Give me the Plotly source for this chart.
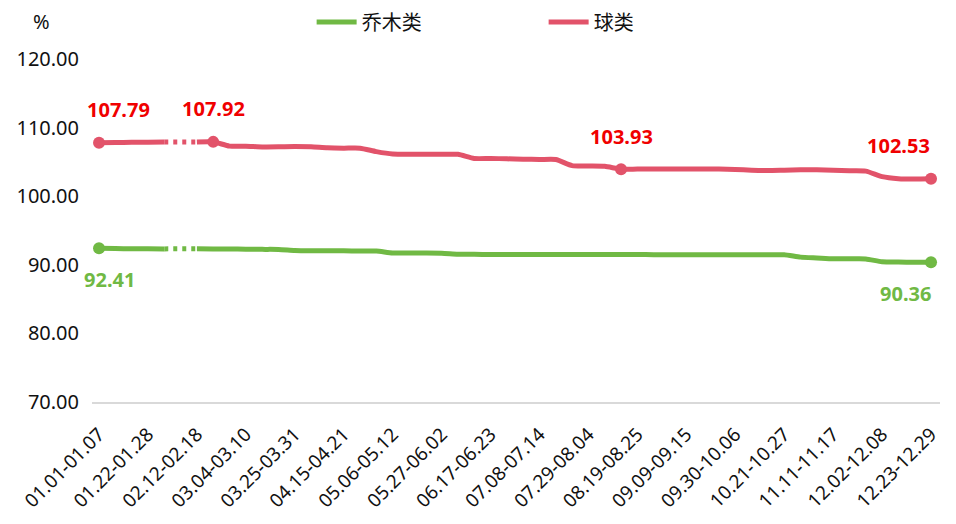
import plotly.graph_objects as go

weeks = list(range(52))
tick_labels = ["01.01-01.07", "01.22-01.28", "02.12-02.18", "03.04-03.10", "03.25-03.31",
               "04.15-04.21", "05.06-05.12", "05.27-06.02", "06.17-06.23", "07.08-07.14",
               "07.29-08.04", "08.19-08.25", "09.09-09.15", "09.30-10.06", "10.21-10.27",
               "11.11-11.17", "12.02-12.08", "12.23-12.29"]

qiao_mu = [92.41, 92.36, 92.34, 92.33, 92.32, None, 92.33, 92.32, 92.30, 92.28,
           92.25, 92.24, 92.10, 92.05, 92.03, 92.03, 92.02, 92.00, 91.72, 91.72,
           91.72, 91.70, 91.55, 91.52, 91.50, 91.50, 91.50, 91.50, 91.50, 91.50,
           91.50, 91.50, 91.49, 91.49, 91.48, 91.48, 91.47, 91.47, 91.46, 91.46,
           91.45, 91.45, 91.45, 91.12, 91.00, 90.88, 90.87, 90.86, 90.45, 90.40,
           90.38, 90.36]

qiu_lei = [107.79, 107.82, 107.85, 107.87, 107.89, None, 107.90, 107.92, 107.30, 107.28,
           107.18, 107.20, 107.25, 107.20, 107.05, 107.00, 107.00, 106.50, 106.15, 106.10,
           106.10, 106.10, 106.10, 105.50, 105.50, 105.45, 105.40, 105.35, 105.35, 104.45,
           104.40, 104.35, 103.93, 103.95, 103.95, 103.95, 103.95, 103.95, 103.95, 103.90,
           103.80, 103.75, 103.80, 103.85, 103.85, 103.80, 103.70, 103.65, 102.85, 102.55,
           102.50, 102.53]

qiao_marks = [0, 51]
qiu_marks = [0, 7, 32, 51]

GREEN = "#70B944"
RED = "#E2536A"
LABEL_RED = "#F00000"
FONT = "Noto Sans, Noto Sans CJK SC, sans-serif"

fig = go.Figure()


def add_series(name, values, color, marks):
    sizes = [12 if i in marks else 0 for i in weeks]
    fig.add_trace(go.Scatter(
        x=weeks, y=values, name=name, mode="lines+markers",
        line=dict(color=color, width=5, shape="spline", smoothing=0.6),
        marker=dict(size=sizes, color=color, opacity=1, line=dict(width=0)),
        connectgaps=False, hoverinfo="x+y"))
    gap = values.index(None)
    fig.add_trace(go.Scatter(
        x=[weeks[gap - 1], weeks[gap + 1]], y=[values[gap - 1], values[gap + 1]],
        mode="lines", showlegend=False,
        line=dict(color=color, width=5, dash="4px,5px"), hoverinfo="skip"))


add_series("乔木类", qiao_mu, GREEN, qiao_marks)
add_series("球类", qiu_lei, RED, qiu_marks)

# data labels
for i, dx in zip(qiu_marks, [19, 0, 0, -33]):
    fig.add_annotation(x=weeks[i], y=qiu_lei[i], text=f"{qiu_lei[i]:.2f}", showarrow=False,
                       xshift=dx, yshift=33,
                       font=dict(family=FONT, size=20, color=LABEL_RED, weight="bold"))
for i, dx in zip(qiao_marks, [10, -26]):
    fig.add_annotation(x=weeks[i], y=qiao_mu[i], text=f"{qiao_mu[i]:.2f}", showarrow=False,
                       xshift=dx, yshift=-31,
                       font=dict(family=FONT, size=20, color=GREEN, weight="bold"))

fig.add_annotation(xref="paper", yref="paper", x=-0.059, y=1.108, text="%", showarrow=False,
                   xanchor="center", yanchor="middle",
                   font=dict(family=FONT, size=20, color="#111"))

# page body has an 8px margin: figure is sized to fit inside the 956x524 window
fig.update_layout(
    width=948, height=516,
    margin=dict(l=84, r=16, t=51, b=122, autoexpand=False),
    plot_bgcolor="white", paper_bgcolor="white",
    font=dict(family=FONT, color="#111"),
    legend=dict(orientation="h", x=0.259, y=1.108, xanchor="left", yanchor="middle",
                font=dict(family=FONT, size=20, color="#111"),
                entrywidth=177, entrywidthmode="pixels", itemwidth=40),
    showlegend=True,
)
fig.update_xaxes(range=[-0.43, 51.55], tickmode="array", automargin=False,
                 tickvals=weeks[::3], ticktext=tick_labels, tickangle=-45,
                 tickfont=dict(family=FONT, size=19, color="#111"),
                 showgrid=False, zeroline=False, showline=True,
                 linecolor="#D9D9D9", linewidth=1.5, ticks="", ticklabelstandoff=12)
fig.update_yaxes(range=[70, 120], tickmode="array", tickvals=[70, 80, 90, 100, 110, 120],
                 automargin=False,
                 tickformat=".2f", tickfont=dict(family=FONT, size=20, color="#111"),
                 showgrid=False, zeroline=False, showline=False, ticks="",
                 ticklabelstandoff=12)

fig.write_html("out.html")
